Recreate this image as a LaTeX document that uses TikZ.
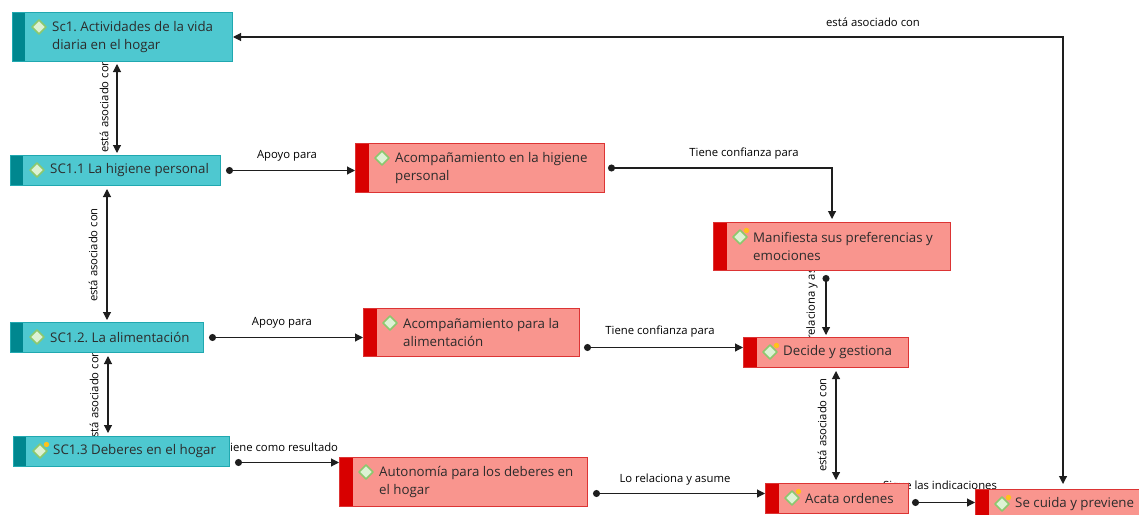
\documentclass[tikz,border=0pt]{standalone}
\usepackage{fontspec}
\setmainfont{Open Sans}
\frenchspacing
\usetikzlibrary{arrows.meta,backgrounds,calc}
\definecolor{tealfill}{HTML}{4EC8D0}
\definecolor{tealstrip}{HTML}{00878F}
\definecolor{tealline}{HTML}{20A8B0}
\definecolor{redfill}{HTML}{F9958E}
\definecolor{redstrip}{HTML}{D80000}
\definecolor{redline}{HTML}{DC3434}
\definecolor{txt}{HTML}{2C2C2C}
\definecolor{icofill}{HTML}{DDF2D4}
\definecolor{icoline}{HTML}{8CC86E}
\definecolor{icodot}{HTML}{FFC21A}
\definecolor{edge}{HTML}{1E1E1E}
\tikzset{
  basebox/.style={rectangle, anchor=north west, inner sep=0pt, line width=1pt},
  tealbox/.style={basebox, fill=tealfill, draw=tealline,
    path picture={\fill[tealstrip] (path picture bounding box.north west) rectangle ([xshift=12]path picture bounding box.south west);}},
  redbox/.style={basebox, fill=redfill, draw=redline,
    path picture={\fill[redstrip] (path picture bounding box.north west) rectangle ([xshift=13]path picture bounding box.south west);}},
  boxtext/.style={anchor=west, inner sep=0pt, align=left, text=txt,
    font=\fontsize{13.3}{18}\selectfont},
  icon/.style={fill=icofill, draw=icoline, line width=1.6pt, line join=round},
  rel/.style={draw=edge, line width=1.1pt, {Circle[length=7pt]}-{Triangle[length=8pt,width=8pt]}},
  dbl/.style={draw=edge, line width=1.1pt, {Triangle[length=8pt,width=8pt]}-{Triangle[length=8pt,width=8pt]}},
  elabel/.style={inner sep=0pt, text=black, font=\fontsize{11.3}{13}\selectfont},
}
% #1 name, #2 x, #3 y(top, downward), #4 w, #5 h, #6 style, #7 dot(1/0), #8 text
\newcommand\conceptbox[8]{%
  \node[#6, minimum width=#4, minimum height=#5] (#1) at (#2,-#3) {};
  \node[boxtext] (#1t) at ([xshift=40]#1.west) {#8};
  \filldraw[icon] ([shift={(27,-15)}]#1.north west) +(0,7) -- +(7,0) -- +(0,-7) -- +(-7,0) -- cycle;
  \ifnum#7=1 \fill[icodot] ([shift={(33.5,-8.5)}]#1.north west) circle (2.7);\fi
}
\begin{document}
\begin{tikzpicture}[x=1pt,y=1pt]
\useasboundingbox (0,0) rectangle (1139,-514);
\clip (0,0) rectangle (1139,-514);

\conceptbox{sc1}{12}{12}{220}{49}{tealbox}{0}{Sc1. Actividades de la vida\\diaria en el hogar}
\conceptbox{sc11}{10}{155}{210}{30}{tealbox}{0}{SC1.1 La higiene personal}
\conceptbox{acomp1}{355}{143}{249}{49}{redbox}{0}{Acompañamiento en la higiene\\personal}
\conceptbox{manif}{713}{222}{237}{48}{redbox}{1}{Manifiesta sus preferencias y\\emociones}
\conceptbox{sc12}{10}{322}{193}{30}{tealbox}{0}{SC1.2. La alimentación}
\conceptbox{acomp2}{363}{308}{216}{48}{redbox}{0}{Acompañamiento para la\\alimentación}
\conceptbox{decide}{743}{337}{165}{30}{redbox}{1}{Decide y gestiona}
\conceptbox{sc13}{13}{436}{216}{30}{tealbox}{1}{SC1.3 Deberes en el hogar}
\conceptbox{auton}{339}{457}{248}{49}{redbox}{0}{Autonomía para los deberes en\\el hogar}
\conceptbox{acata}{765}{483}{143}{30}{redbox}{1}{Acata ordenes}
\conceptbox{secuida}{975}{489}{190}{30}{redbox}{1}{Se cuida y previene}

\begin{pgfonlayer}{background}
\fill[white] (0,0) rectangle (1139,-514);
% Se cuida <-> Sc1
\draw[dbl, shorten >=2pt] (sc1.east) -| ([xshift=88,yshift=3]secuida.north west);
\node[elabel] (l1) at (873,-22) {está asociado con};
% Sc1 <-> SC1.1
\draw[dbl, shorten <=2pt, shorten >=2pt] ([xshift=105]sc1.south west) -- ([xshift=107]sc11.north west);
\node[elabel, rotate=90] (l2) at (104,-106) {está asociado con};
% SC1.1 -> Acomp1
\draw[rel] ([xshift=5]sc11.east) -- (sc11.east -| acomp1.west);
\node[elabel] (l3) at (287,-156) {Apoyo para};
% Acomp1 -> Manif
\draw[rel] ([xshift=3]acomp1.east) -| ([yshift=3]manif.north);
\node[elabel] (l4) at (744,-154) {Tiene confianza para};
% SC1.1 <-> SC1.2
\draw[dbl, shorten <=3pt, shorten >=2pt] ([xshift=97]sc11.south west) -- ([xshift=97]sc12.north west);
\node[elabel, rotate=90] (l5) at (93,-255) {está asociado con};
% SC1.2 -> Acomp2
\draw[rel] ([xshift=5]sc12.east) -- (sc12.east -| acomp2.west);
\node[elabel] (l6) at (282,-323) {Apoyo para};
% Acomp2 -> Decide
\draw[rel] ([shift={(4,-15)}]acomp2.east) coordinate (s7) -- (s7 -| decide.west);
\node[elabel] (l7) at (660,-332) {Tiene confianza para};
% Manif -> Decide
\draw[rel] ([shift={(113,-4)}]manif.south west) -- ([xshift=113,yshift=2]manif.south west |- decide.north);
\node[elabel, rotate=90] (l8) at (812,-300) {Lo relaciona y asume};
% Decide <-> Acata
\draw[dbl, shorten <=3pt, shorten >=3pt] ([xshift=93]decide.south west) -- ([xshift=93]decide.south west |- acata.north);
\node[elabel, rotate=90] (l9) at (822,-425) {está asociado con};
% SC1.2 <-> SC1.3
\draw[dbl, shorten <=3pt, shorten >=3pt] ([xshift=98]sc12.south west) -- ([xshift=98]sc12.south west |- sc13.north);
\node[elabel, rotate=90] (l10) at (94,-397) {está asociado con};
% SC1.3 -> Autonomia
\draw[rel] ([shift={(5,-11)}]sc13.east) coordinate (s11) -- (s11 -| auton.west);
\node[elabel] (l11) at (281,-447) {Tiene como resultado};
% Autonomia -> Acata
\draw[rel] ([shift={(5,-11.5)}]auton.east) coordinate (s12) -- (s12 -| acata.west);
\node[elabel] (l12) at (675,-480) {Lo relaciona y asume};
% Acata -> Se cuida
\draw[rel] ([shift={(3,-4)}]acata.east) coordinate (s13) -- (s13 -| secuida.west);
\node[elabel] (l13) at (940,-487) {Sigue las indicaciones};
\end{pgfonlayer}
\end{tikzpicture}
\end{document}
